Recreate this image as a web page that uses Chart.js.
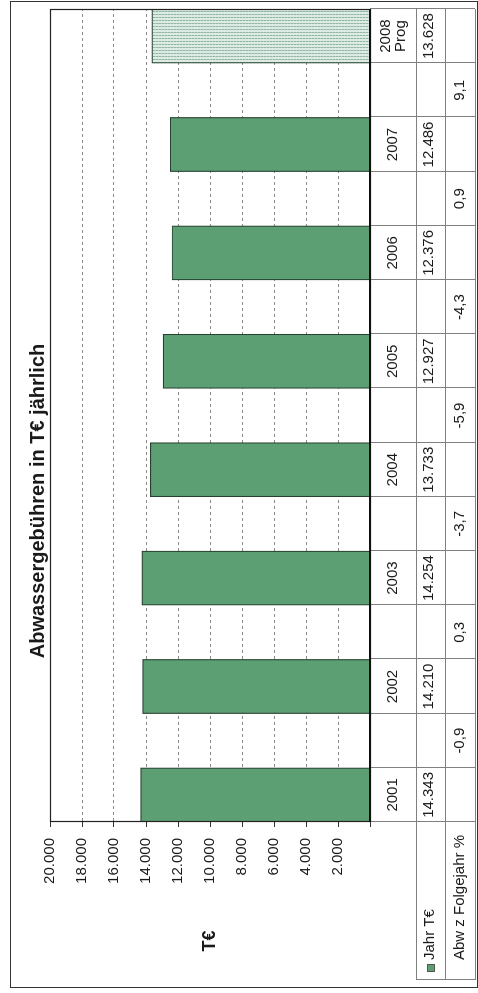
<!DOCTYPE html>
<html>
<head>
<meta charset="utf-8">
<script src="https://cdn.jsdelivr.net/npm/chart.js@4.4.1/dist/chart.umd.min.js"></script>
<style>
  html,body{margin:0;padding:0;background:#fff;overflow:hidden;width:478px;height:993px;}
  #rot{position:absolute;left:0;top:0;width:993px;height:478px;transform-origin:0 0;transform:translate(0,993px) rotate(-90deg);}
  #frame{position:absolute;left:5px;top:10px;width:987px;height:468px;box-sizing:border-box;border:1.5px solid #333;}
  #c{position:absolute;left:0;top:0;}
  #title{position:absolute;left:0;top:25px;width:984px;text-align:center;font:bold 20px/24px "Liberation Sans",Arial,sans-serif;color:#1a1a1a;}
</style>
</head>
<body>
<div id="rot">
  <div id="frame"></div>
  <canvas id="c" width="993" height="478"></canvas>
  <div id="title">Abwassergebühren in T€ jährlich</div>
</div>
<script>
// ---- data ----
const years = ['2001','2002','2003','2004','2005','2006','2007','2008'];
const yearSub = ['','','','','','','','Prog'];
const jahrTEUR = [14343, 14210, 14254, 13733, 12927, 12376, 12486, 13628];
const abwPct = [-0.9, 0.3, -3.7, -5.9, -4.3, 0.9, 9.1];
const yMin = 0, yMax = 20000, yStep = 2000;
const rowLabelJahr = 'Jahr T€';
const rowLabelAbw = 'Abw z Folgejahr %';
const axisTitle = 'T€';

// ---- build slots: year columns alternate with change columns ----
const slotLabels = [], barData = [], slotIsYear = [], slotIdx = [];
years.forEach((y, i) => {
  slotLabels.push(y); barData.push(jahrTEUR[i]); slotIsYear.push(true); slotIdx.push(i);
  if (i < years.length - 1) { slotLabels.push(''); barData.push(null); slotIsYear.push(false); slotIdx.push(i); }
});

const fmtInt = n => String(n).replace(/\B(?=(\d{3})+(?!\d))/g, '.');
const fmtPct = n => n.toFixed(1).replace('.', ',');

const GREEN = '#5c9f73';
const FONT = '"Liberation Sans", Arial, sans-serif';

const cv = document.getElementById('c');
const ctx0 = cv.getContext('2d');
function makePattern() {
  const p = document.createElement('canvas'); p.width = 3; p.height = 3;
  const g = p.getContext('2d');
  g.fillStyle = '#dcece4'; g.fillRect(0, 0, 3, 3);
  g.fillStyle = '#93b5a4'; g.fillRect(0, 0, 1, 2);
  g.fillStyle = '#b5d0c2'; g.fillRect(0, 2, 1, 1);
  return ctx0.createPattern(p, 'repeat');
}
const hatch = makePattern();
const barColors = barData.map((v, i) => (slotIsYear[i] && slotIdx[i] === years.length - 1) ? hatch : GREEN);

const tablePlugin = {
  id: 'tablePlugin',
  afterDraw(chart) {
    const { ctx, chartArea: ca, scales: { x } } = chart;
    const n = slotLabels.length;
    const w = x.getPixelForValue(1) - x.getPixelForValue(0);
    const r1 = ca.bottom, r2 = 416, r3 = 445, r4 = 475;
    const hdrLeft = 13;
    const line = (a, b, c, d) => { ctx.beginPath(); ctx.moveTo(a, b); ctx.lineTo(c, d); ctx.stroke(); };
    ctx.save();
    // table grid
    ctx.strokeStyle = '#808080'; ctx.lineWidth = 1;
    for (let i = 0; i <= n; i++) {
      const xb = Math.round(x.getPixelForValue(Math.min(i, n - 1)) + (i === n ? w / 2 : -w / 2)) + 0.5;
      line(xb, r1, xb, r4);
    }
    [r2, r3, r4].forEach(r => line(hdrLeft, r + 0.5, ca.right, r + 0.5));
    line(hdrLeft + 0.5, r2, hdrLeft + 0.5, r4);
    // plot frame
    ctx.strokeStyle = '#222'; ctx.lineWidth = 1.2;
    ctx.strokeRect(ca.left + 0.5, ca.top + 0.5, ca.right - ca.left - 1, ca.bottom - ca.top);
    ctx.lineWidth = 2.2; ctx.strokeStyle = '#111';
    line(ca.left, ca.bottom, ca.right, ca.bottom);
    // texts
    ctx.fillStyle = '#1a1a1a';
    ctx.font = '15px ' + FONT;
    ctx.textAlign = 'center'; ctx.textBaseline = 'middle';
    for (let i = 0; i < n; i++) {
      const cx = x.getPixelForValue(i);
      if (slotIsYear[i]) {
        const k = slotIdx[i];
        if (yearSub[k]) {
          ctx.fillText(years[k], cx, 386);
          ctx.fillText(yearSub[k], cx, 401);
        } else {
          ctx.fillText(years[k], cx, 393);
        }
        ctx.fillText(fmtInt(jahrTEUR[k]), cx, 429);
      } else {
        ctx.fillText(fmtPct(abwPct[slotIdx[i]]), cx, 460);
      }
    }
    // header
    ctx.textAlign = 'left';
    ctx.fillStyle = GREEN; ctx.fillRect(21, 427, 8, 8);
    ctx.strokeStyle = '#555'; ctx.lineWidth = 1; ctx.strokeRect(21.5, 427.5, 7, 7);
    ctx.fillStyle = '#1a1a1a';
    ctx.fillText(rowLabelJahr, 33, 430);
    ctx.fillText(rowLabelAbw, 33, 460);
    // axis title
    ctx.font = 'bold 18px ' + FONT; ctx.textAlign = 'center';
    ctx.fillText(axisTitle, 52, (ca.top + ca.bottom) / 2);
    ctx.restore();
  }
};

new Chart(cv, {
  type: 'bar',
  data: {
    labels: slotLabels,
    datasets: [{
      label: rowLabelJahr,
      data: barData,
      backgroundColor: barColors,
      borderColor: '#27402f',
      borderWidth: 1.2,
      barPercentage: 1,
      categoryPercentage: 1
    }]
  },
  options: {
    responsive: false,
    animation: false,
    devicePixelRatio: 1,
    layout: { padding: { left: 71, right: 9, top: 50, bottom: 108 } },
    plugins: { legend: { display: false }, title: { display: false }, tooltip: { enabled: false } },
    scales: {
      x: {
        type: 'category',
        display: false,
        offset: true,
        grid: { display: false }
      },
      y: {
        min: yMin, max: yMax,
        afterFit(s) { s.width = 100; },
        ticks: {
          stepSize: yStep,
          padding: 11,
          color: '#1a1a1a',
          font: { family: FONT, size: 15 },
          callback: v => v === 0 ? '' : fmtInt(v)
        },
        grid: {
          color: c => (c.tick && (c.tick.value === 0 || c.tick.value === yMax)) ? 'rgba(0,0,0,0)' : '#8a8a8a',
          lineWidth: 1,
          drawTicks: true,
          tickLength: 5,
          tickColor: '#333',
          tickBorderDash: []
        },
        border: { display: true, color: '#222', width: 1, dash: [3, 3] }
      }
    }
  },
  plugins: [tablePlugin]
});
</script>
</body>
</html>
